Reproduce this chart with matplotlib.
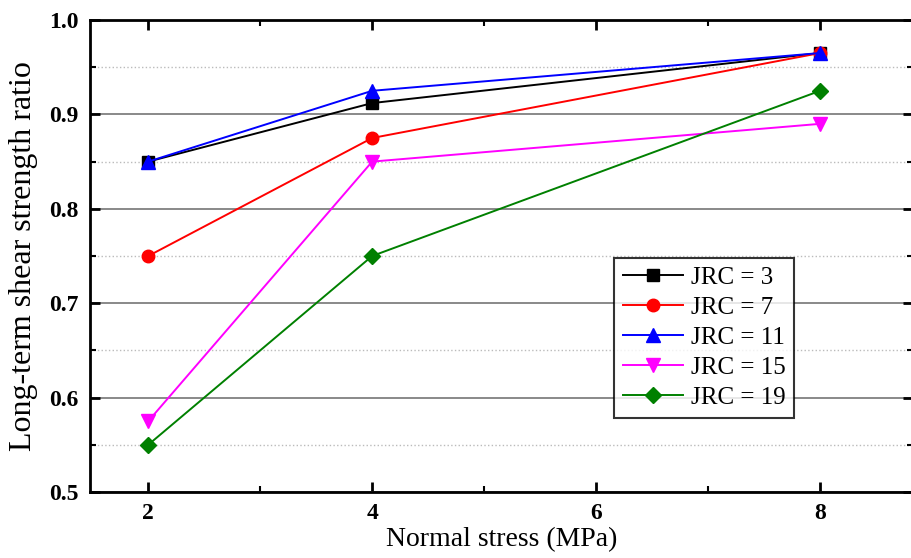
import numpy as np
import matplotlib
matplotlib.use("Agg")
import matplotlib.pyplot as plt
from matplotlib.ticker import MultipleLocator

plt.rcParams['font.family'] = ['Liberation Serif', 'DejaVu Serif']

# datos
stress = [2, 4, 8]
jrc3 = [0.85, 0.912, 0.965]
jrc7 = [0.75, 0.875, 0.965]
jrc11 = [0.85, 0.925, 0.965]
jrc15 = [0.575, 0.85, 0.89]
jrc19 = [0.55, 0.75, 0.925]

etiquetas = ['JRC = 3', 'JRC = 7', 'JRC = 11', 'JRC = 15', 'JRC = 19']
series = [jrc3, jrc7, jrc11, jrc15, jrc19]
colores = ['black', 'red', 'blue', 'magenta', 'green']
marcas = ['s', 'o', '^', 'v', 'D']
tamanos = [8, 9, 10, 10, 8]

fig = plt.figure(figsize=(9.11, 5.58), dpi=100)
ax = fig.add_axes([90 / 911, 66 / 558, 823 / 911, 472 / 558])

for y, lab, c, m, s in zip(series, etiquetas, colores, marcas, tamanos):
    ax.plot(stress, y, color=c, marker=m, markersize=s, linewidth=1.4,
            label=lab, clip_on=False)

ax.set_xlim(1.48, 8.83)
ax.set_ylim(0.5, 1.0)
ax.xaxis.set_major_locator(MultipleLocator(2))
ax.xaxis.set_minor_locator(MultipleLocator(1))
ax.yaxis.set_major_locator(MultipleLocator(0.1))
ax.yaxis.set_minor_locator(MultipleLocator(0.05))

# rejilla
ax.grid(True, which='major', axis='y', color='gray', linewidth=1.3)
ax.grid(True, which='minor', axis='y', color='#bbbbbb', linestyle=':', linewidth=1)
ax.set_axisbelow(True)

for sp in ax.spines.values():
    sp.set_linewidth(2)

ax.tick_params(which='major', direction='in', length=7, width=2,
               top=True, right=True, labelsize=17, pad=8)
ax.tick_params(which='minor', direction='in', length=4, width=1.5,
               top=True, right=True)
for t in ax.get_xticklabels() + ax.get_yticklabels():
    t.set_fontweight('bold')

ax.set_xlabel('Normal stress (MPa)', fontsize=20, labelpad=2)
ax.set_ylabel('Long-term shear strength ratio', fontsize=23, labelpad=8)

leg = ax.legend(loc='upper left', bbox_to_anchor=(0.637, 0.496), fontsize=18,
                frameon=True, fancybox=False, edgecolor='black',
                handlelength=2.4, borderpad=0.35, labelspacing=0.3,
                handletextpad=0.3, borderaxespad=0)
leg.get_frame().set_linewidth(1.5)

fig.savefig('out.png', dpi=100)
